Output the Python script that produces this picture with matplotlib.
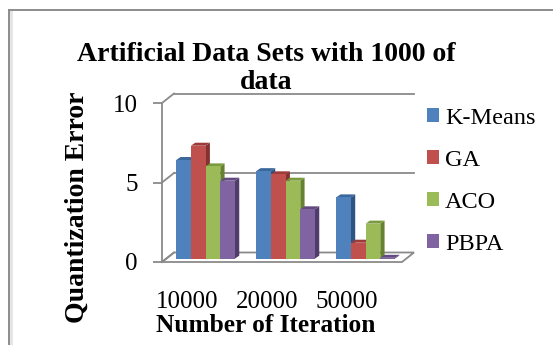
import matplotlib
matplotlib.use("Agg")
import matplotlib.pyplot as plt
from matplotlib.patches import Polygon, Rectangle, Patch
from matplotlib.lines import Line2D
from matplotlib.transforms import ScaledTranslation
import numpy as np

plt.rcParams['font.family'] = ['Liberation Serif', 'DejaVu Serif']

categories = ["10000", "20000", "50000"]
series = ["K-Means", "GA", "ACO", "PBPA"]
kmeans = [6.2, 5.5, 3.85]
ga = [7.1, 5.3, 1.0]
aco = [5.8, 4.9, 2.2]
pbpa = [4.9, 3.1, 0.05]
values = [kmeans, ga, aco, pbpa]
yticks = [0, 5, 10]

front = ['#4F81BD', '#C0504D', '#9BBB59', '#8064A2']
top = ['#3A679C', '#9E3B38', '#7A9A3E', '#634B82']
side = ['#2E5484', '#843230', '#66822F', '#4F3C6A']
grid_c = '#8A8A8A'

W, H, DPI = 553, 345, 100
fig = plt.figure(figsize=(W / DPI, H / DPI), dpi=DPI)

# axes = front plane of the 3-D box
x0, x1, ybot, ytop = 162, 402, 262, 103
ax = fig.add_axes([x0 / W, (H - ybot) / H, (x1 - x0) / W, (ybot - ytop) / H])
ax.set_xlim(0, len(categories))
ax.set_ylim(0, 10)
px_x = (x1 - x0) / len(categories)   # pixels per x unit
px_y = (ybot - ytop) / 10.0           # pixels per y unit

def off(dx_px, dy_px):
    """pixel offset (right, up) expressed in data units"""
    return dx_px / px_x, dy_px / px_y

# depth of the box (back wall offset)
bdx, bdy = off(12, 9.5)
xmax = len(categories)

# floor slab
floor = Polygon([(0, 0), (xmax, 0), (xmax + bdx, bdy), (bdx, bdy)],
                closed=True, facecolor='white', edgecolor=grid_c, lw=1.3,
                clip_on=False, zorder=1)
ax.add_patch(floor)
# back-wall gridlines and side-wall diagonals
for yv in yticks[1:]:
    ax.add_line(Line2D([bdx, xmax + bdx], [yv + bdy, yv + bdy], color=grid_c,
                       lw=1.3, clip_on=False, zorder=0.5))
for yv in yticks:
    ax.add_line(Line2D([0, bdx], [yv, yv + bdy], color=grid_c, lw=1.3,
                       clip_on=False, zorder=1))

# bars: front, top, right-side faces
n = len(series)
bw = 0.1835
depth_x0, depth_y0 = off(3.6, 3.4)
ddx, ddy = off(4.3, 3.0)
for gi in range(len(categories)):
    left0 = gi + 0.5 - n * bw / 2
    for si in range(n):
        v = values[si][gi]
        xl = left0 + si * bw + depth_x0
        yb = depth_y0
        xr = xl + bw
        yt = yb + v
        ax.add_patch(Polygon([(xr, yb), (xr + ddx, yb + ddy), (xr + ddx, yt + ddy), (xr, yt)],
                             closed=True, facecolor=side[si], edgecolor='none',
                             clip_on=False, zorder=3 + gi * 10 + si))
        ax.add_patch(Polygon([(xl, yt), (xr, yt), (xr + ddx, yt + ddy), (xl + ddx, yt + ddy)],
                             closed=True, facecolor=top[si], edgecolor='none',
                             clip_on=False, zorder=3 + gi * 10 + si))
        ax.add_patch(Rectangle((xl, yb), bw, v, facecolor=front[si], edgecolor='none',
                               clip_on=False, zorder=3.5 + gi * 10 + si))

# axes styling
for s in ['top', 'right', 'bottom']:
    ax.spines[s].set_visible(False)
ax.spines['left'].set_color(grid_c)
ax.spines['left'].set_linewidth(1.3)
ax.patch.set_visible(False)
ax.set_yticks(yticks)
ax.set_yticklabels([str(t) for t in yticks])
ax.tick_params(axis='y', length=6.5, width=1.3, color=grid_c, pad=11, labelsize=18)
ax.set_xticks(np.arange(len(categories)) + 0.5)
ax.set_xticklabels(categories)
ax.tick_params(axis='x', length=0, pad=21, labelsize=18)
shift = ScaledTranslation(-15 / DPI, 0, fig.dpi_scale_trans)
for lab in ax.get_xticklabels():
    lab.set_transform(lab.get_transform() + shift)

# titles and axis labels
fig.text(266.5 / W, (H - 60.7) / H, "Artificial Data Sets with 1000 of",
         ha='center', va='baseline', fontsize=20, fontweight='bold')
fig.text(266.5 / W, (H - 89) / H, "data",
         ha='center', va='baseline', fontsize=20, fontweight='bold')
fig.text(266 / W, (H - 331.7) / H, "Number of Iteration",
         ha='center', va='baseline', fontsize=18.3, fontweight='bold')
fig.text(77 / W, (H - 207) / H, "Quantization Error", rotation=90,
         ha='center', va='center', fontsize=20, fontweight='bold')

# legend
handles = [Patch(facecolor=c, edgecolor='none') for c in front]
fig.legend(handles, series, loc='upper left', bbox_to_anchor=(427 / W, (H - 108) / H),
           frameon=False, fontsize=17.5, handlelength=0.5, handleheight=0.5,
           handletextpad=0.25, labelspacing=0.86, borderaxespad=0, borderpad=0)

# outer frame with a faint shadow
fig.add_artist(Line2D([10.5 / W, 10.5 / W], [0, (H - 11) / H], color='#E4E4E4', lw=2))
fig.add_artist(Line2D([8.5 / W, 8.5 / W], [0, (H - 10) / H], color='#8C8C8C', lw=1.4))
fig.add_artist(Line2D([8.5 / W, 1], [(H - 10) / H, (H - 10) / H], color='#8C8C8C', lw=1.4))

fig.savefig("out.png", dpi=DPI)
